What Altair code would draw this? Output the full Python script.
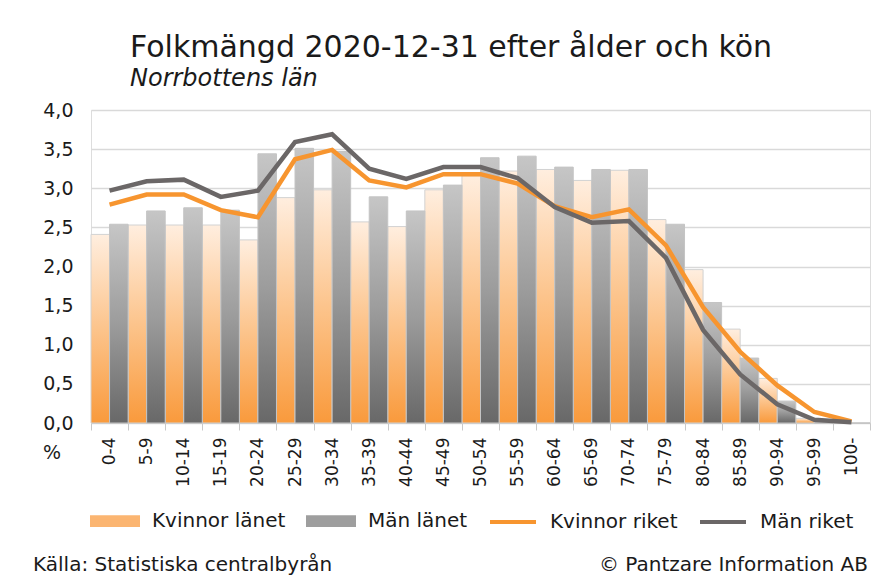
import altair as alt
import pandas as pd

# ---------------- data ----------------
ages = ["0-4", "5-9", "10-14", "15-19", "20-24", "25-29", "30-34", "35-39",
        "40-44", "45-49", "50-54", "55-59", "60-64", "65-69", "70-74", "75-79",
        "80-84", "85-89", "90-94", "95-99", "100-"]
kvinnor_lanet = [2.41, 2.53, 2.53, 2.53, 2.34, 2.88, 2.98, 2.57, 2.51, 2.98, 3.16,
                 3.22, 3.24, 3.10, 3.23, 2.60, 1.96, 1.20, 0.57, 0.06, 0.005]
man_lanet = [2.54, 2.71, 2.75, 2.72, 3.44, 3.51, 3.47, 2.89, 2.71, 3.04, 3.39,
             3.41, 3.27, 3.24, 3.24, 2.54, 1.54, 0.83, 0.28, 0.015, 0.001]
kvinnor_riket = [2.79, 2.92, 2.92, 2.72, 2.63, 3.37, 3.49, 3.10, 3.01, 3.18, 3.18,
                 3.06, 2.77, 2.63, 2.73, 2.27, 1.48, 0.91, 0.48, 0.14, 0.02]
man_riket = [2.97, 3.09, 3.11, 2.89, 2.97, 3.59, 3.69, 3.25, 3.12, 3.27, 3.27,
             3.13, 2.76, 2.56, 2.58, 2.11, 1.19, 0.62, 0.24, 0.04, 0.01]
series = ["Kvinnor länet", "Män länet", "Kvinnor riket", "Män riket"]
y_ticks = [0, 0.5, 1.0, 1.5, 2.0, 2.5, 3.0, 3.5, 4.0]

title_text = "Folkmängd 2020-12-31 efter ålder och kön"
subtitle_text = "Norrbottens län"
source_text = "Källa: Statistiska centralbyrån"
copyright_text = "© Pantzare Information AB"

FONT = "DejaVu Sans"
ORANGE = "#f7952f"
DARK = "#6b6767"
TXT = "#1a1a1a"

def frame(vals, name):
    return pd.DataFrame({"age": ages, "value": vals, "serie": name})

df_kl = frame(kvinnor_lanet, series[0])
df_ml = frame(man_lanet, series[1])
df_kr = frame(kvinnor_riket, series[2])
df_mr = frame(man_riket, series[3])

x_enc = alt.X("age:N", sort=ages,
              scale=alt.Scale(domain=ages, paddingInner=0, paddingOuter=0),
              axis=alt.Axis(title=None, labelAngle=-90, tickBand="extent",
                            tickSize=7, tickColor="#c8c8c8", domainColor="#c8c8c8",
                            labelPadding=7, labelFontSize=17, labelFont=FONT,
                            labelColor=TXT, grid=False))
y_enc = alt.Y("value:Q",
              scale=alt.Scale(domain=[0, 4], nice=False, zero=True),
              axis=alt.Axis(title=None, values=y_ticks, ticks=False, domain=False,
                            labelOverlap=False,
                            labelExpr="replace(format(datum.value, '.1f'), '.', ',')",
                            labelFontSize=19, labelFont=FONT, labelColor=TXT,
                            labelPadding=18, gridColor="#d9d9d9", gridWidth=1.5))
xoff = alt.XOffset("serie:N",
                   scale=alt.Scale(domain=series[:2], paddingInner=0, paddingOuter=0))

grad_orange = alt.LinearGradient(
    gradient="linear", x1=0, y1=0, x2=0, y2=1,
    stops=[alt.GradientStop(color="#ffeedf", offset=0),
           alt.GradientStop(color="#fcc48c", offset=0.5),
           alt.GradientStop(color="#f99a3c", offset=1)])
grad_gray = alt.LinearGradient(
    gradient="linear", x1=0, y1=0, x2=0, y2=1,
    stops=[alt.GradientStop(color="#c6c6c6", offset=0),
           alt.GradientStop(color="#9c9c9c", offset=0.5),
           alt.GradientStop(color="#686868", offset=1)])

bars_k = alt.Chart(df_kl).mark_bar(fill=grad_orange, stroke="#d2d2d2", strokeWidth=1).encode(
    x=x_enc, y=y_enc, xOffset=xoff)
bars_m = alt.Chart(df_ml).mark_bar(fill=grad_gray, stroke="#c4c4c4", strokeWidth=1).encode(
    x=x_enc, y=y_enc, xOffset=xoff)
line_k = alt.Chart(df_kr).mark_line(color=ORANGE, strokeWidth=4.5).encode(x=x_enc, y=y_enc)
line_m = alt.Chart(df_mr).mark_line(color=DARK, strokeWidth=4.5).encode(x=x_enc, y=y_enc)

# legend carrier (no visible marks: values are null)
box = "M-1,-0.17H1V0.17H-1Z"
seg = "M-1,0H1"
df_leg = pd.DataFrame({"serie": series, "value": [None] * 4})
legend = alt.Legend(orient="none", legendX=-1, legendY=386, direction="horizontal",
                    columns=4, title=None, symbolSize=2116, symbolStrokeWidth=4,
                    symbolOpacity=1,
                    labelFontSize=20, labelFont=FONT, labelColor=TXT,
                    labelOffset=12, columnPadding=14, labelLimit=300)
leg = alt.Chart(df_leg).mark_point(filled=True, opacity=1).encode(
    y=y_enc,
    fill=alt.Fill("serie:N", scale=alt.Scale(domain=series,
                  range=["#fbb571", "#9e9e9e", "transparent", "transparent"]), legend=legend),
    stroke=alt.Stroke("serie:N", scale=alt.Scale(domain=series,
                      range=["#fbb571", "#9e9e9e", ORANGE, DARK]), legend=legend),
    shape=alt.Shape("serie:N", scale=alt.Scale(domain=series,
                    range=[box, box, seg, seg]), legend=legend),
)

pct = alt.Chart(pd.DataFrame({"t": ["%"]})).mark_text(
    font=FONT, fontSize=19, color=TXT, align="center", baseline="middle").encode(
    text="t:N", x=alt.value(-39), y=alt.value(343))
src = alt.Chart(pd.DataFrame({"t": [source_text]})).mark_text(
    font=FONT, fontSize=20, color=TXT, align="left", baseline="alphabetic").encode(
    text="t:N", x=alt.value(-58), y=alt.value(461))
cpy = alt.Chart(pd.DataFrame({"t": [copyright_text]})).mark_text(
    font=FONT, fontSize=20, color=TXT, align="right", baseline="alphabetic").encode(
    text="t:N", x=alt.value(777), y=alt.value(461))

chart = alt.layer(bars_k, bars_m, line_k, line_m, leg, pct, src, cpy).properties(
    width=779, height=313,
    title=alt.Title(title_text, subtitle=subtitle_text, anchor="start", frame="group", dx=39,
                    font=FONT, fontSize=30, fontWeight="normal", color=TXT,
                    subtitleFont=FONT, subtitleFontSize=24, subtitleFontStyle="italic",
                    subtitleColor=TXT, subtitlePadding=4, offset=10),
    autosize=alt.AutoSizeParams(type="none"),
    padding={"left": 83, "top": 102, "right": 4, "bottom": 157},
).configure_view(fill="#fffde8", stroke="#d0d0d0", strokeWidth=1.5
).configure(background="white")

chart.save("out.html", embed_options={"renderer": "svg", "actions": False})
